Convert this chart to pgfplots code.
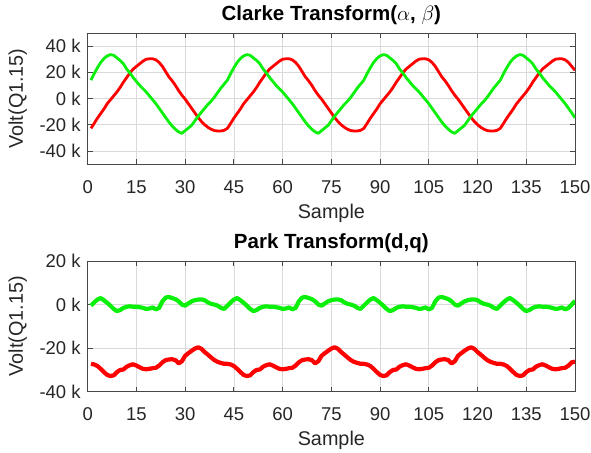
\documentclass[border=0pt]{standalone}
\usepackage{pgfplots}
\pgfplotsset{compat=1.18}
\usepackage{pgfplotstable}
\usepackage{fontspec}
\setmainfont{Liberation Sans}
\definecolor{axgray}{RGB}{38,38,38}
\definecolor{gridgray}{RGB}{218,218,218}
\definecolor{lred}{RGB}{255,0,0}
\definecolor{lgreen}{RGB}{10,240,10}

\pgfplotstableread{
s rt gt rb gb
1 -22.8 14 -27.2 -0.5
2 -19 19 -27.5 1
3 -15 23.5 -28.2 2.3
4 -11.5 27.5 -29.5 3
5 -8 30.5 -31 2
6 -4 32.5 -32.3 0.8
7 -1 33.5 -32.8 -0.5
8 2 33 -32.5 -2
9 5 31 -31 -3
10 8.5 29 -30 -2.5
11 12.5 26.5 -29.8 -1.5
12 16 22.5 -28.5 -1
13 19.5 19.5 -27.8 -0.8
14 22.5 16 -27.4 -1
15 24.5 13 -28 -1
16 26.5 10 -28.8 -1.2
17 28.5 7.5 -29.5 -1.5
18 30 5 -29.7 -2
19 30.3 2 -29.5 -1.8
20 30.3 -1 -29.2 -1.3
21 29.5 -4 -29 -2.2
22 27.5 -7.5 -28 -1.5
23 24.5 -11 -26.5 1.5
24 20.5 -14.5 -25.5 3.2
25 16.5 -18 -25.2 3.5
26 13.5 -21 -25.1 3
27 10 -23.5 -25.5 2.5
28 6 -25.5 -27 1.5
29 2.5 -26.6 -26 0
30 -0.5 -24.5 -23.5 -0.5
31 -4 -22.5 -22.3 0.5
32 -7.5 -20.5 -21.2 1.5
33 -11 -17 -20.2 2
34 -14.5 -13.5 -19.6 2.3
35 -17.5 -10.5 -20.3 2.4
36 -20 -7.5 -21.8 2
37 -22 -4.5 -23 1
38 -23.5 -2 -24.3 0.3
39 -24.5 1 -25.5 0
40 -24.8 4.5 -26.3 -0.5
41 -24.8 8 -26.8 -1.5
42 -24.3 11 -27.2 -2
43 -22.8 14 -27.2 -0.5
44 -19 19 -27.5 1
45 -15 23.5 -28.2 2.3
46 -11.5 27.5 -29.5 3
47 -8 30.5 -31 2
48 -4 32.5 -32.3 0.8
49 -1 33.5 -32.8 -0.5
50 2 33 -32.5 -2
51 5 31 -31 -3
52 8.5 29 -30 -2.5
53 12.5 26.5 -29.8 -1.5
54 16 22.5 -28.5 -1
55 19.5 19.5 -27.8 -0.8
56 22.5 16 -27.4 -1
57 24.5 13 -28 -1
58 26.5 10 -28.8 -1.2
59 28.5 7.5 -29.5 -1.5
60 30 5 -29.7 -2
61 30.3 2 -29.5 -1.8
62 30.3 -1 -29.2 -1.3
63 29.5 -4 -29 -2.2
64 27.5 -7.5 -28 -1.5
65 24.5 -11 -26.5 1.5
66 20.5 -14.5 -25.5 3.2
67 16.5 -18 -25.2 3.5
68 13.5 -21 -25.1 3
69 10 -23.5 -25.5 2.5
70 6 -25.5 -27 1.5
71 2.5 -26.6 -26 0
72 -0.5 -24.5 -23.5 -0.5
73 -4 -22.5 -22.3 0.5
74 -7.5 -20.5 -21.2 1.5
75 -11 -17 -20.2 2
76 -14.5 -13.5 -19.6 2.3
77 -17.5 -10.5 -20.3 2.4
78 -20 -7.5 -21.8 2
79 -22 -4.5 -23 1
80 -23.5 -2 -24.3 0.3
81 -24.5 1 -25.5 0
82 -24.8 4.5 -26.3 -0.5
83 -24.8 8 -26.8 -1.5
84 -24.3 11 -27.2 -2
85 -22.8 14 -27.2 -0.5
86 -19 19 -27.5 1
87 -15 23.5 -28.2 2.3
88 -11.5 27.5 -29.5 3
89 -8 30.5 -31 2
90 -4 32.5 -32.3 0.8
91 -1 33.5 -32.8 -0.5
92 2 33 -32.5 -2
93 5 31 -31 -3
94 8.5 29 -30 -2.5
95 12.5 26.5 -29.8 -1.5
96 16 22.5 -28.5 -1
97 19.5 19.5 -27.8 -0.8
98 22.5 16 -27.4 -1
99 24.5 13 -28 -1
100 26.5 10 -28.8 -1.2
101 28.5 7.5 -29.5 -1.5
102 30 5 -29.7 -2
103 30.3 2 -29.5 -1.8
104 30.3 -1 -29.2 -1.3
105 29.5 -4 -29 -2.2
106 27.5 -7.5 -28 -1.5
107 24.5 -11 -26.5 1.5
108 20.5 -14.5 -25.5 3.2
109 16.5 -18 -25.2 3.5
110 13.5 -21 -25.1 3
111 10 -23.5 -25.5 2.5
112 6 -25.5 -27 1.5
113 2.5 -26.6 -26 0
114 -0.5 -24.5 -23.5 -0.5
115 -4 -22.5 -22.3 0.5
116 -7.5 -20.5 -21.2 1.5
117 -11 -17 -20.2 2
118 -14.5 -13.5 -19.6 2.3
119 -17.5 -10.5 -20.3 2.4
120 -20 -7.5 -21.8 2
121 -22 -4.5 -23 1
122 -23.5 -2 -24.3 0.3
123 -24.5 1 -25.5 0
124 -24.8 4.5 -26.3 -0.5
125 -24.8 8 -26.8 -1.5
126 -24.3 11 -27.2 -2
127 -22.8 14 -27.2 -0.5
128 -19 19 -27.5 1
129 -15 23.5 -28.2 2.3
130 -11.5 27.5 -29.5 3
131 -8 30.5 -31 2
132 -4 32.5 -32.3 0.8
133 -1 33.5 -32.8 -0.5
134 2 33 -32.5 -2
135 5 31 -31 -3
136 8.5 29 -30 -2.5
137 12.5 26.5 -29.8 -1.5
138 16 22.5 -28.5 -1
139 19.5 19.5 -27.8 -0.8
140 22.5 16 -27.4 -1
141 24.5 13 -28 -1
142 26.5 10 -28.8 -1.2
143 28.5 7.5 -29.5 -1.5
144 30 5 -29.7 -2
145 30.3 2 -29.5 -1.8
146 30.3 -1 -29.2 -1.3
147 29.5 -4 -29 -2.2
148 27.5 -7.5 -28 -1.5
149 24.5 -11 -26.5 0
150 21.5 -14.7 -26.2 1.7
}\data

\pgfplotsset{mystyle/.style={
  scale only axis, width=487.3pt, anchor=south west,
  xmin=0, xmax=150, xtick={0,15,...,150},
  grid=major, major grid style={gridgray, line width=0.7pt},
  axis line style={axgray!85, line width=0.8pt},
  tick style={axgray!85, line width=0.8pt}, tick align=inside, major tick length=5pt,
  ticklabel style={font=\fontsize{18.5}{20}\selectfont, text=axgray},
  /pgf/number format/assume math mode=true,
  xticklabel style={anchor=base, yshift=-29pt},
  yticklabel style={xshift=-3.5pt},
  xlabel={Sample}, ylabel={Volt(Q1.15)},
  every axis x label/.style={at={(axis description cs:0.5,0)}, yshift=-54pt, anchor=base,
     font=\fontsize{19.8}{22}\selectfont, text=axgray},
  every axis y label/.style={at={(axis description cs:0,0.5)}, xshift=-70pt, rotate=90, anchor=center,
     font=\fontsize{19.8}{22}\selectfont, text=axgray},
  title style={font=\bfseries\fontsize{20.5}{23}\selectfont, text=black, at={(axis description cs:0.5,1)}, anchor=base, yshift=7pt},
}}

\begin{document}
\begin{tikzpicture}
\path[use as bounding box] (0pt,0pt) rectangle (591pt,-452pt);
\begin{axis}[mystyle, at={(87.7pt,-164pt)}, height=131pt,
  ymin=-50, ymax=50, ytick={-40,-20,0,20,40},
  yticklabels={-40 k,-20 k,0 k,20 k,40 k},
  title={Clarke Transform($\alpha$, $\beta$)}]
\addplot[lred, line width=2.8pt, line join=round] table[x=s, y=rt] {\data};
\addplot[lgreen, line width=2.8pt, line join=round] table[x=s, y=gt] {\data};
\end{axis}
\begin{axis}[mystyle, at={(87.7pt,-391.7pt)}, height=130.7pt,
  ymin=-40, ymax=20, ytick={-40,-20,0,20},
  yticklabels={-40 k,-20 k,0 k,20 k},
  title={Park Transform(d,q)}]
\addplot[lred, line width=4.2pt, line join=round] table[x=s, y=rb] {\data};
\addplot[lgreen, line width=4.2pt, line join=round] table[x=s, y=gb] {\data};
\end{axis}
\end{tikzpicture}
\end{document}
